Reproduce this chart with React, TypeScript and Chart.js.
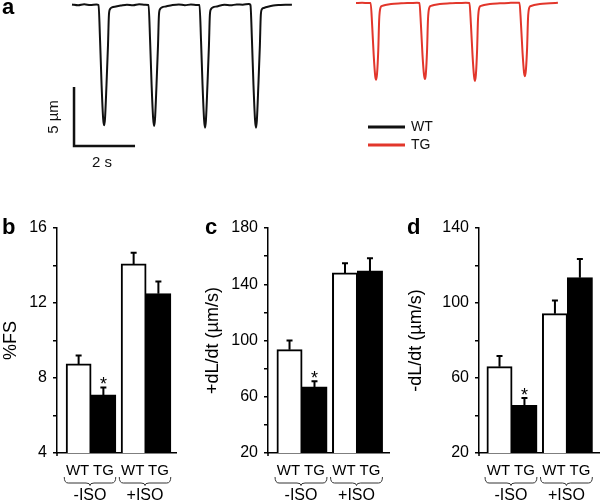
import React, { useEffect, useRef } from 'react';
import { Chart, registerables } from 'chart.js';

Chart.register(...registerables);

const FONT = '"Liberation Sans", Arial, Helvetica, sans-serif';
const RED = '#e2362b';

// ---------- Panel a : cell-shortening traces (time in s, length change in µm) ----------
const wtTrace: [number, number][] = [
  [0, 0.05], [0.2, -0.02], [0.4, 0.06], [0.6, 0.0], [0.8, 0.04], [0.87, 0],
  [0.92, -3.0], [0.97, -6.8], [1.02, -9.6], [1.05, -10.2], [1.08, -9.7], [1.13, -6.8],
  [1.18, -3.4], [1.21, -0.85], [1.25, -0.34], [1.31, -0.21], [1.44, -0.13],
  [1.6, -0.05], [1.8, 0.03], [2.0, -0.02], [2.2, 0.06], [2.4, 0.02], [2.51, 0.0],
  [2.56, -3.0], [2.61, -6.8], [2.66, -9.6], [2.69, -10.25], [2.72, -9.7], [2.77, -6.8],
  [2.82, -3.4], [2.85, -0.85], [2.89, -0.34], [2.95, -0.2], [3.08, -0.12],
  [3.3, 0.0], [3.5, 0.05], [3.7, -0.02], [3.9, 0.04], [4.1, 0.01], [4.18, 0.0],
  [4.23, -3.0], [4.28, -6.8], [4.33, -9.7], [4.36, -10.4], [4.39, -9.8], [4.44, -6.8],
  [4.49, -3.4], [4.52, -0.85], [4.56, -0.34], [4.62, -0.2], [4.75, -0.12],
  [5.0, 0.02], [5.2, -0.03], [5.4, 0.05], [5.6, 0.03], [5.8, 0.08], [5.85, 0.0],
  [5.9, -3.0], [5.95, -6.8], [6.0, -9.7], [6.03, -10.4], [6.06, -9.8], [6.11, -6.8],
  [6.16, -3.4], [6.19, -0.85], [6.23, -0.34], [6.29, -0.25], [6.42, -0.15],
  [6.6, -0.05], [6.8, 0.0], [7.0, 0.03], [7.21, 0.02],
];

const tgTrace: [number, number][] = [
  [0, 0.0], [0.2, 0.02], [0.4, 0.0], [0.48, 0.0],
  [0.53, -1.9], [0.58, -4.4], [0.63, -6.2], [0.66, -6.5], [0.69, -6.0], [0.73, -4.0],
  [0.76, -1.4], [0.8, -0.42], [0.86, -0.25], [0.96, -0.17], [1.15, -0.08], [1.48, -0.03],
  [1.8, 0.0], [2.0, 0.02], [2.08, 0.0],
  [2.13, -1.9], [2.18, -4.4], [2.23, -6.1], [2.26, -6.45], [2.29, -6.0], [2.33, -4.0],
  [2.36, -1.4], [2.4, -0.42], [2.46, -0.25], [2.56, -0.17], [2.75, -0.08], [3.08, -0.03],
  [3.4, 0.0], [3.6, 0.02], [3.72, 0.0],
  [3.77, -1.9], [3.82, -4.4], [3.87, -6.2], [3.9, -6.6], [3.93, -6.1], [3.97, -4.0],
  [4.0, -1.4], [4.04, -0.42], [4.1, -0.25], [4.2, -0.17], [4.39, -0.08], [4.72, -0.03],
  [5.0, 0.0], [5.2, 0.03], [5.36, 0.02],
  [5.41, -1.8], [5.46, -4.2], [5.51, -5.9], [5.54, -6.2], [5.57, -5.7], [5.61, -3.8],
  [5.64, -1.3], [5.68, -0.4], [5.74, -0.25], [5.84, -0.17], [6.03, -0.08], [6.36, -0.03],
  [6.62, 0.02],
];

const SCALE_BAR_S = 2;
const SCALE_BAR_UM = 5;
const traceLegend = ['WT', 'TG'];

// ---------- Panels b-d : bar data ----------
const groups = ['-ISO', '+ISO'];
const genotypes = ['WT', 'TG'];

const fsWT = [8.75, 14.08];
const fsWTsem = [0.45, 0.6];
const fsTG = [7.1, 12.5];
const fsTGsem = [0.4, 0.65];
const fsTicks = [4, 8, 12, 16];

const plusWT = [93.5, 148];
const plusWTsem = [6.5, 7];
const plusTG = [67, 149.5];
const plusTGsem = [4, 9];
const plusTicks = [20, 60, 100, 140, 180];

const minusWT = [66, 94.3];
const minusWTsem = [5.7, 7];
const minusTG = [45.4, 113.5];
const minusTGsem = [4, 10];
const minusTicks = [20, 60, 100, 140];

// significance marks: [dataset index, group index]
const sigMarks: [number, number][] = [[1, 0]];

// ---------------------------------------------------------------------------
function TracePanel() {
  const ref = useRef<HTMLCanvasElement>(null);
  useEffect(() => {
    const annot = {
      id: 'traceAnnot',
      afterDatasetsDraw(chart: any) {
        const { ctx } = chart;
        const xs = chart.scales.x;
        const ys = chart.scales.y;
        ctx.save();
        // scale bars
        const t0 = 0.066;
        const v0 = -11.95;
        const x0 = xs.getPixelForValue(t0);
        const x1 = xs.getPixelForValue(t0 + SCALE_BAR_S);
        const yb = ys.getPixelForValue(v0);
        const yt = ys.getPixelForValue(v0 + SCALE_BAR_UM);
        ctx.strokeStyle = '#111';
        ctx.lineWidth = 2.5;
        ctx.lineCap = 'butt';
        ctx.lineJoin = 'miter';
        ctx.beginPath();
        ctx.moveTo(x0, yt);
        ctx.lineTo(x0, yb);
        ctx.lineTo(x1, yb);
        ctx.stroke();

        ctx.fillStyle = '#111';
        ctx.font = `15px ${FONT}`;
        ctx.textAlign = 'center';
        ctx.textBaseline = 'middle';
        ctx.fillText(`${SCALE_BAR_S} s`, 102, 163);
        ctx.save();
        ctx.translate(54, 117);
        ctx.rotate(-Math.PI / 2);
        ctx.fillText(`${SCALE_BAR_UM} µm`, 0, 0);
        ctx.restore();

        // legend
        const colors = ['#111', RED];
        traceLegend.forEach((lab, i) => {
          const y = 127 + i * 18;
          ctx.strokeStyle = colors[i];
          ctx.lineWidth = 3;
          ctx.beginPath();
          ctx.moveTo(368, y);
          ctx.lineTo(405, y);
          ctx.stroke();
          ctx.fillStyle = '#111';
          ctx.font = `14px ${FONT}`;
          ctx.textAlign = 'left';
          ctx.textBaseline = 'middle';
          ctx.fillText(lab, 411, y);
        });

        // panel letter
        ctx.font = `bold 22px ${FONT}`;
        ctx.textAlign = 'left';
        ctx.textBaseline = 'alphabetic';
        ctx.fillStyle = '#000';
        ctx.fillText('a', 2, 14);
        ctx.restore();
      },
    };

    const chart = new Chart(ref.current as HTMLCanvasElement, {
      type: 'line',
      data: {
        datasets: [
          {
            label: 'WT',
            data: wtTrace.map(([t, v]) => ({ x: t, y: v })),
            borderColor: '#111',
            borderWidth: 2,
            pointRadius: 0,
            cubicInterpolationMode: 'monotone',
            xAxisID: 'x',
            yAxisID: 'y',
          },
          {
            label: 'TG',
            data: tgTrace.map(([t, v]) => ({ x: t, y: v })),
            borderColor: RED,
            borderWidth: 2,
            pointRadius: 0,
            cubicInterpolationMode: 'monotone',
            xAxisID: 'x2',
            yAxisID: 'y2',
          },
        ],
      },
      options: {
        animation: false,
        responsive: false,
        events: [],
        layout: { padding: 0 },
        plugins: { legend: { display: false }, tooltip: { enabled: false } },
        scales: {
          x: { type: 'linear', display: false, min: -2.361, max: 17.311 },
          x2: { type: 'linear', display: false, min: -11.672, max: 8.0 },
          y: { type: 'linear', display: false, min: -15.254, max: 0.424 },
          y2: { type: 'linear', display: false, min: -15.424, max: 0.254 },
        },
      } as any,
      plugins: [annot],
    });
    return () => chart.destroy();
  }, []);
  return (
    <canvas
      ref={ref}
      width={600}
      height={185}
      style={{ position: 'absolute', left: 0, top: 0, width: 600, height: 185 }}
    />
  );
}

type BarProps = {
  left: number;
  letter: string;
  letterX: number;
  title: string;
  titlePad: number;
  wt: number[];
  wtSem: number[];
  tg: number[];
  tgSem: number[];
  yMin: number;
  yMax: number;
  step: number;
  labelled: number[];
  axisX: number;
  padRight: number;
  xMin: number;
  xMax: number;
};

function drawBrace(ctx: CanvasRenderingContext2D, x1: number, x2: number, yTop: number) {
  const depth = 6;
  const yMid = yTop + depth;
  const xm = (x1 + x2) / 2;
  const r = 4;
  ctx.beginPath();
  ctx.moveTo(x1, yTop);
  ctx.quadraticCurveTo(x1, yMid, x1 + r, yMid);
  ctx.lineTo(xm - r, yMid);
  ctx.quadraticCurveTo(xm, yMid, xm, yMid + 2.5);
  ctx.quadraticCurveTo(xm, yMid, xm + r, yMid);
  ctx.lineTo(x2 - r, yMid);
  ctx.quadraticCurveTo(x2, yMid, x2, yTop);
  ctx.stroke();
}

function BarPanel(p: BarProps) {
  const ref = useRef<HTMLCanvasElement>(null);
  useEffect(() => {
    const sems = [p.wtSem, p.tgSem];
    const vals = [p.wt, p.tg];
    const annot = {
      id: 'barAnnot',
      afterDatasetsDraw(chart: any) {
        const { ctx, chartArea } = chart;
        const ys = chart.scales.y;
        ctx.save();
        // error bars
        ctx.strokeStyle = '#000';
        ctx.lineWidth = 2;
        for (let d = 0; d < 2; d++) {
          const meta = chart.getDatasetMeta(d);
          meta.data.forEach((bar: any, j: number) => {
            const yTop = ys.getPixelForValue(vals[d][j] + sems[d][j]);
            ctx.beginPath();
            ctx.moveTo(bar.x, bar.y);
            ctx.lineTo(bar.x, yTop);
            ctx.moveTo(bar.x - 3, yTop);
            ctx.lineTo(bar.x + 3, yTop);
            ctx.stroke();
          });
        }
        // significance
        ctx.fillStyle = '#000';
        ctx.font = `18px ${FONT}`;
        ctx.textAlign = 'center';
        ctx.textBaseline = 'alphabetic';
        sigMarks.forEach(([d, j]) => {
          const bar: any = chart.getDatasetMeta(d).data[j];
          const yTop = ys.getPixelForValue(vals[d][j] + sems[d][j]);
          ctx.fillText('*', bar.x, yTop + 3);
        });
        // y axis small extension below x axis
        ctx.lineWidth = 1.5;
        ctx.beginPath();
        ctx.moveTo(chartArea.left, chartArea.bottom);
        ctx.lineTo(chartArea.left, chartArea.bottom + 3);
        ctx.stroke();
        // category labels, braces, group labels
        const m0 = chart.getDatasetMeta(0);
        const m1 = chart.getDatasetMeta(1);
        groups.forEach((g, j) => {
          const b0: any = m0.data[j];
          const b1: any = m1.data[j];
          ctx.fillStyle = '#000';
          ctx.font = `15px ${FONT}`;
          ctx.textBaseline = 'middle';
          ctx.textAlign = 'center';
          ctx.fillText(genotypes[0], b0.x - 1, 285.5);
          ctx.fillText(genotypes[1], b1.x, 285.5);
          const x1 = b0.x - b0.width / 2 - 2;
          const x2 = b1.x + b1.width / 2;
          ctx.strokeStyle = '#333';
          ctx.lineWidth = 1;
          drawBrace(ctx, x1, x2, 292);
          ctx.font = `16px ${FONT}`;
          ctx.fillText(g, (x1 + x2) / 2, 311);
        });
        // panel letter
        ctx.font = `bold 22px ${FONT}`;
        ctx.textAlign = 'left';
        ctx.textBaseline = 'alphabetic';
        ctx.fillText(p.letter, p.letterX, 49);
        ctx.restore();
      },
    };

    const chart = new Chart(ref.current as HTMLCanvasElement, {
      type: 'bar',
      data: {
        datasets: [
          {
            label: genotypes[0],
            data: groups.map((_, i) => ({ x: i, y: p.wt[i] })),
            backgroundColor: '#ffffff',
            borderColor: '#000',
            borderWidth: 2,
            borderSkipped: 'start',
            barPercentage: 1,
            categoryPercentage: 0.9,
            inflateAmount: 0.5,
          },
          {
            label: genotypes[1],
            data: groups.map((_, i) => ({ x: i, y: p.tg[i] })),
            backgroundColor: '#000',
            borderColor: '#000',
            borderWidth: 2,
            borderSkipped: 'start',
            barPercentage: 1,
            categoryPercentage: 0.9,
            inflateAmount: 0.5,
          },
        ],
      },
      options: {
        animation: false,
        responsive: false,
        events: [],
        layout: { padding: { top: 43, right: p.padRight, bottom: 0, left: 0 } },
        plugins: { legend: { display: false }, tooltip: { enabled: false } },
        scales: {
          x: {
            type: 'linear',
            offset: false,
            min: p.xMin,
            max: p.xMax,
            afterBuildTicks: (s: any) => {
              s.ticks = groups.map((_, i) => ({ value: i }));
            },
            ticks: { display: false },
            grid: { display: false },
            border: { display: true, color: '#000', width: 1.5 },
            afterFit: (s: any) => {
              s.height = 51;
            },
          },
          y: {
            type: 'linear',
            min: p.yMin,
            max: p.yMax,
            ticks: {
              stepSize: p.step,
              color: '#000',
              padding: 6,
              font: { family: FONT, size: 16 },
              callback: (v: any) => (p.labelled.includes(Number(v)) ? String(v) : ''),
            },
            grid: {
              drawOnChartArea: false,
              drawTicks: true,
              tickLength: 4,
              color: '#000',
              lineWidth: 1.5,
            },
            border: { display: true, color: '#000', width: 1.5 },
            title: {
              display: true,
              text: p.title,
              color: '#000',
              font: { family: FONT, size: 18 },
              padding: { top: p.titlePad, bottom: 0 },
            },
            afterFit: (s: any) => {
              s.width = p.axisX;
            },
          },
        },
      } as any,
      plugins: [annot],
    });
    return () => chart.destroy();
  }, []);
  return (
    <canvas
      ref={ref}
      width={200}
      height={319}
      style={{ position: 'absolute', left: p.left, top: 185, width: 200, height: 319 }}
    />
  );
}

export default function App() {
  return (
    <div
      style={{
        position: 'fixed',
        left: 0,
        top: 0,
        width: 600,
        height: 504,
        background: '#fff',
        overflow: 'hidden',
      }}
    >
      <TracePanel />
      <BarPanel
        left={0}
        letter="b"
        letterX={2}
        title="%FS"
        titlePad={0}
        wt={fsWT}
        wtSem={fsWTsem}
        tg={fsTG}
        tgSem={fsTGsem}
        yMin={4}
        yMax={16}
        step={2}
        labelled={fsTicks}
        axisX={57}
        padRight={24}
        xMin={-0.618}
        xMax={1.545}
      />
      <BarPanel
        left={200}
        letter="c"
        letterX={5}
        title="+dL/dt (µm/s)"
        titlePad={2}
        wt={plusWT}
        wtSem={plusWTsem}
        tg={plusTG}
        tgSem={plusTGsem}
        yMin={20}
        yMax={180}
        step={20}
        labelled={plusTicks}
        axisX={68}
        padRight={11}
        xMin={-0.613}
        xMax={1.568}
      />
      <BarPanel
        left={400}
        letter="d"
        letterX={7}
        title="-dL/dt (µm/s)"
        titlePad={5}
        wt={minusWT}
        wtSem={minusWTsem}
        tg={minusTG}
        tgSem={minusTGsem}
        yMin={20}
        yMax={140}
        step={20}
        labelled={minusTicks}
        axisX={79}
        padRight={1}
        xMin={-0.595}
        xMax={1.57}
      />
    </div>
  );
}
